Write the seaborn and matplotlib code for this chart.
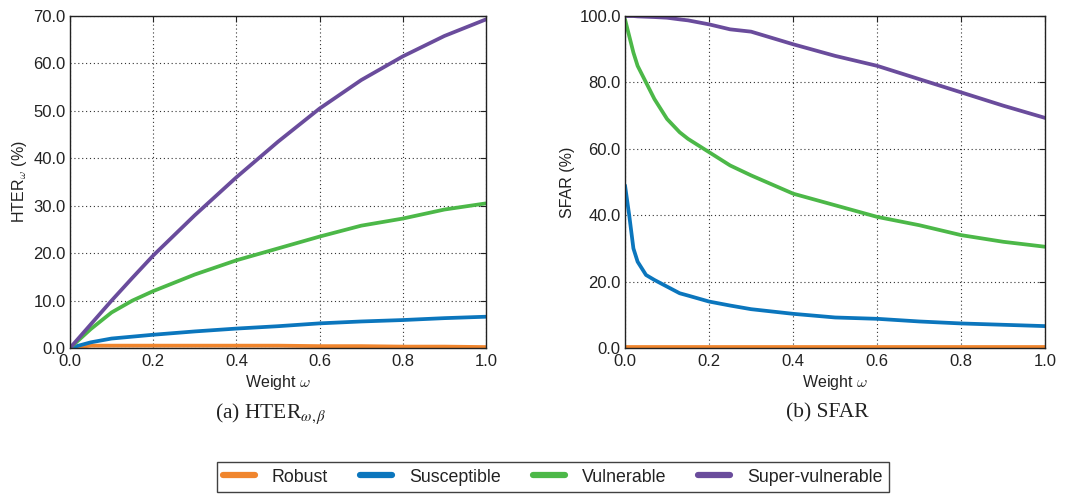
import numpy as np
import pandas as pd
import matplotlib
matplotlib.use("Agg")
import matplotlib.pyplot as plt
import seaborn as sns

# ---- data -------------------------------------------------------------
groups = ["Robust", "Susceptible", "Vulnerable", "Super-vulnerable"]
colors = ["#f0852d", "#0b76bd", "#4cb848", "#6a4c9c"]

w_hter = [0.0, 0.05, 0.1, 0.15, 0.2, 0.3, 0.4, 0.5, 0.6, 0.7, 0.8, 0.9, 1.0]
hter_robust = [0.0, 0.5, 0.5, 0.5, 0.5, 0.5, 0.5, 0.5, 0.4, 0.4, 0.3, 0.3, 0.2]
hter_susceptible = [0.0, 1.2, 2.0, 2.4, 2.8, 3.5, 4.1, 4.6, 5.2, 5.6, 5.9, 6.3, 6.6]
hter_vulnerable = [0.0, 4.0, 7.5, 10.0, 12.0, 15.5, 18.5, 21.0, 23.5, 25.8, 27.3, 29.2, 30.5]
hter_supervulnerable = [0.0, 5.0, 10.0, 14.8, 19.5, 28.0, 36.0, 43.5, 50.5, 56.5, 61.5, 65.8, 69.3]

w_sfar = [0.0, 0.01, 0.02, 0.03, 0.05, 0.07, 0.1, 0.13, 0.15, 0.2, 0.25,
          0.3, 0.4, 0.5, 0.6, 0.7, 0.8, 0.9, 1.0]
sfar_robust = [0.2] * len(w_sfar)
sfar_susceptible = [49.0, 40.0, 30.0, 26.0, 22.0, 20.5, 18.5, 16.5, 15.8, 14.0, 12.8,
                    11.7, 10.3, 9.2, 8.8, 8.0, 7.4, 7.0, 6.6]
sfar_vulnerable = [99.0, 94.0, 89.0, 85.0, 80.0, 75.0, 69.0, 65.0, 63.0, 59.0, 55.0,
                   52.0, 46.5, 43.0, 39.5, 37.0, 34.0, 32.0, 30.5]
sfar_supervulnerable = [100.0, 100.0, 100.0, 99.9, 99.8, 99.7, 99.5, 99.0, 98.7, 97.5, 96.0,
                        95.3, 91.5, 88.0, 85.0, 81.0, 77.0, 73.0, 69.3]


def long_frame(w, series):
    rows = []
    for g, vals in zip(groups, series):
        for x, v in zip(w, vals):
            rows.append({"Weight": x, "Value": v, "Group": g})
    return pd.DataFrame(rows)


hter_df = long_frame(w_hter, [hter_robust, hter_susceptible, hter_vulnerable, hter_supervulnerable])
sfar_df = long_frame(w_sfar, [sfar_robust, sfar_susceptible, sfar_vulnerable, sfar_supervulnerable])

# ---- style ------------------------------------------------------------
sns.set_theme(style="white")
plt.rcParams["font.family"] = ["Liberation Sans", "DejaVu Sans"]
plt.rcParams["mathtext.fontset"] = "cm"
palette = dict(zip(groups, colors))
ink = "#222222"

fig = plt.figure(figsize=(10.75, 4.94), dpi=100)
ax1 = fig.add_axes([0.0651, 0.2955, 0.387, 0.672])
ax2 = fig.add_axes([0.5814, 0.2955, 0.391, 0.672])


def style_axes(ax, ymax, ystep, ylabel):
    ax.set_xlim(0, 1.0)
    ax.set_ylim(0, ymax)
    ax.set_xticks(np.arange(0, 1.01, 0.2))
    ax.set_yticks(np.arange(0, ymax + 0.1, ystep))
    ax.xaxis.set_major_formatter(matplotlib.ticker.FormatStrFormatter("%.1f"))
    ax.yaxis.set_major_formatter(matplotlib.ticker.FormatStrFormatter("%.1f"))
    ax.grid(True, color="#333333", linestyle=(0, (1, 2.5)), linewidth=0.8)
    ax.tick_params(direction="in", top=True, right=True, length=4, width=0.8,
                   labelsize=12, colors=ink)
    ax.tick_params(axis="x", pad=4)
    ax.tick_params(axis="y", pad=3)
    for s in ax.spines.values():
        s.set_color(ink)
        s.set_linewidth(1.0)
    ax.set_xlabel(r"Weight $\omega$", fontsize=11.5, labelpad=3, color=ink)
    ax.set_ylabel(ylabel, fontsize=11.5, labelpad=3, color=ink)


sns.lineplot(data=hter_df, x="Weight", y="Value", hue="Group", palette=palette,
             hue_order=groups, linewidth=2.7, ax=ax1, legend=False)
sns.lineplot(data=sfar_df, x="Weight", y="Value", hue="Group", palette=palette,
             hue_order=groups, linewidth=2.7, ax=ax2, legend=False)

style_axes(ax1, 70, 10, r"HTER$_\omega$ (%)")
style_axes(ax2, 100, 20, "SFAR (%)")

# sub-figure captions
fig.text(0.252, 0.154, r"(a) HTER$_{\omega,\beta}$", ha="center", va="baseline",
         fontsize=15.5, family="Liberation Serif", math_fontfamily="stix", color=ink)
fig.text(0.770, 0.154, "(b) SFAR", ha="center", va="baseline",
         fontsize=15.5, family="Liberation Serif", color=ink)

# shared legend
handles = [matplotlib.lines.Line2D([], [], color=c, linewidth=4.5) for c in colors]
leg = fig.legend(handles, groups, loc="center", bbox_to_anchor=(0.514, 0.034), ncol=4,
                 fontsize=12.8, frameon=True, fancybox=False, handlelength=1.8,
                 columnspacing=1.8, handletextpad=0.95, borderpad=0.35)
leg.get_frame().set_edgecolor("#111111")
leg.get_frame().set_linewidth(1.0)
for t in leg.get_texts():
    t.set_color(ink)

fig.savefig("out.png", dpi=100)
